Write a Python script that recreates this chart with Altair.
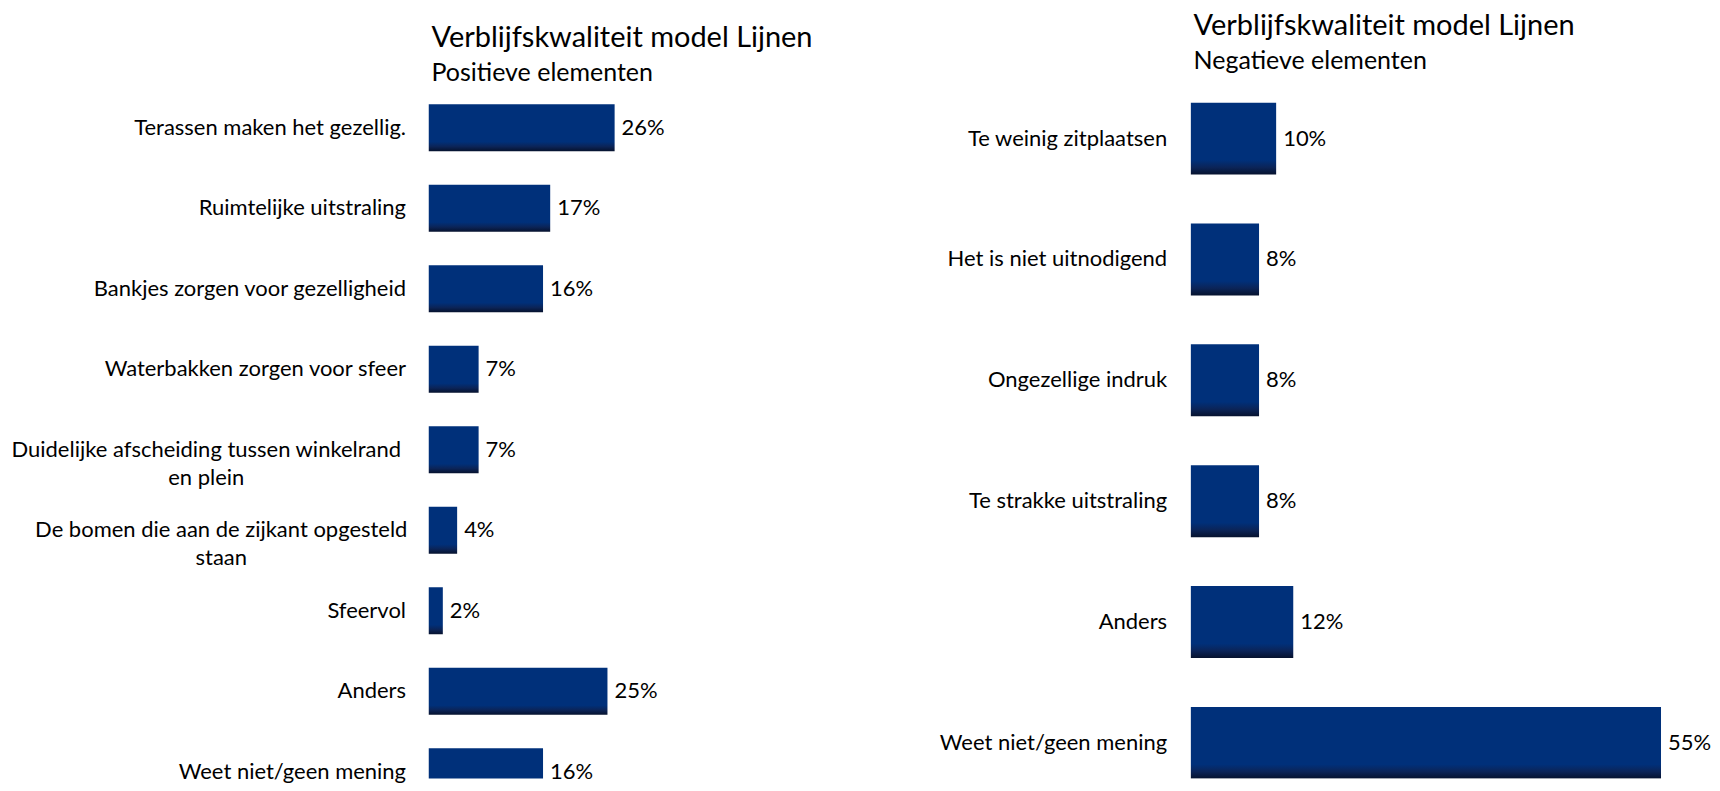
import altair as alt
import pandas as pd

# ---------------- data ----------------
title_text = "Verblijfskwaliteit model Lijnen"
pos_subtitle = "Positieve elementen"
neg_subtitle = "Negatieve elementen"

pos_labels = [
    "Terassen maken het gezellig.",
    "Ruimtelijke uitstraling",
    "Bankjes zorgen voor gezelligheid",
    "Waterbakken zorgen voor sfeer",
    "Duidelijke afscheiding tussen winkelrand|en plein",
    "De bomen die aan de zijkant opgesteld|staan",
    "Sfeervol",
    "Anders",
    "Weet niet/geen mening",
]
pos_values = [26, 17, 16, 7, 7, 4, 2, 25, 16]

neg_labels = [
    "Te weinig zitplaatsen",
    "Het is niet uitnodigend",
    "Ongezellige indruk",
    "Te strakke uitstraling",
    "Anders",
    "Weet niet/geen mening",
]
neg_values = [10, 8, 8, 8, 12, 55]

# ---------------- style ----------------
FONT = "Lato"
LABEL_SIZE = 22
H = 685

bar_fill = alt.Gradient(
    gradient="linear", x1=0, x2=0, y1=0, y2=1,
    stops=[
        alt.GradientStop(offset=0, color="#00307a"),
        alt.GradientStop(offset=0.8, color="#00307a"),
        alt.GradientStop(offset=0.9, color="#0b2458"),
        alt.GradientStop(offset=1, color="#06122e"),
    ],
)


def panel(labels, values, subtitle, width, xmax, yrange, pinner, extent,
          lab_pad, pad_cond, title_dx, title_offset):
    df = pd.DataFrame({"cat": labels, "val": values})
    axis = alt.Axis(
        title=None, domain=False, ticks=False, grid=False,
        labelFont=FONT, labelFontSize=LABEL_SIZE, labelColor="#000000",
        labelLimit=1000, labelExpr="split(datum.label, '|')",
        labelLineHeight=28,
        labelAlign={"condition": {"test": "indexof(datum.value, '|') >= 0", "value": "center"},
                    "value": "right"},
        labelPadding={"condition": pad_cond, "value": lab_pad} if pad_cond else lab_pad,
        minExtent=extent, maxExtent=extent,
    )
    y = alt.Y("cat:N", sort=labels, axis=axis,
              scale=alt.Scale(range=yrange, paddingInner=pinner, paddingOuter=0))
    x = alt.X("val:Q", axis=None, scale=alt.Scale(domain=[0, xmax], nice=False))
    bars = alt.Chart(df).mark_bar(fill=bar_fill, clip=True).encode(x=x, y=y)
    text = (
        alt.Chart(df)
        .transform_calculate(lbl="datum.val + '%'")
        .mark_text(align="left", baseline="middle", dx=7, font=FONT,
                   fontSize=LABEL_SIZE, color="#000000")
        .encode(x=x, y=y, text="lbl:N")
    )
    return alt.layer(bars, text).properties(
        width=width, height=H,
        title=alt.Title(
            text=title_text, subtitle=subtitle, anchor="start", frame="group",
            font=FONT, fontSize=29, fontWeight="normal", color="#000000",
            subtitleFont=FONT, subtitleFontSize=25, subtitleColor="#000000",
            subtitlePadding=8, offset=title_offset, dx=title_dx,
        ),
    )


left = panel(
    pos_labels, pos_values, pos_subtitle, width=430, xmax=60,
    yrange=[9.9, 701.7], pinner=0.417, extent=421, lab_pad=23,
    pad_cond=[
        {"test": "indexof(datum.value, 'winkelrand') >= 0", "value": 223},
        {"test": "indexof(datum.value, 'opgesteld') >= 0", "value": 208},
    ],
    title_dx=3, title_offset=8,
)
right = panel(
    neg_labels, neg_values, neg_subtitle, width=471, xmax=55,
    yrange=[8.3, 685.3], pinner=0.405, extent=280, lab_pad=24, pad_cond=None,
    title_dx=3, title_offset=20,
)

chart = (
    alt.hconcat(left, right, spacing=53)
    .properties(padding={"left": 0, "top": 4, "right": 0, "bottom": 0}, background="white")
    .configure_view(stroke=None)
)

chart.save("out.html", embed_options={"renderer": "svg", "actions": False})
